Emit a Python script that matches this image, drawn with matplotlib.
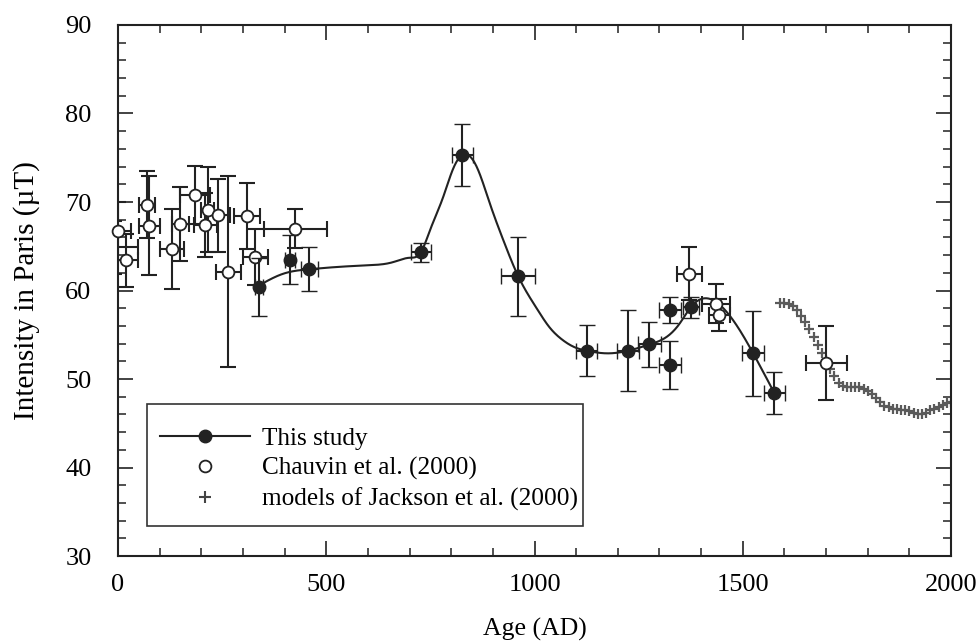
import numpy as np
import matplotlib
matplotlib.use("Agg")
import matplotlib.pyplot as plt
from matplotlib.lines import Line2D
from matplotlib.patches import Rectangle

plt.rcParams['font.family'] = ['Liberation Serif', 'DejaVu Serif']

# ---- This study (filled) ----
study_age = [339, 413, 459, 727, 827, 961, 1125, 1225, 1276, 1325, 1325, 1376, 1525, 1576]
study_int = [60.4, 63.5, 62.4, 64.3, 75.3, 61.6, 53.2, 53.2, 53.9, 57.8, 51.6, 58.1, 52.9, 48.4]
study_xerr = [10, 12, 20, 24, 26, 41, 26, 26, 27, 26, 26, 20, 26, 25]
study_yerr = [3.3, 2.8, 2.5, 1.1, 3.5, 4.45, 2.9, 4.6, 2.5, 1.5, 2.7, 1.2, 4.8, 2.4]

# smooth curve through this study (knots)
curve_age = [336, 397, 459, 509, 600, 660, 700, 727, 749, 781, 805, 833, 861, 893, 925, 961,
             1005, 1035, 1065, 1101, 1125, 1173, 1225, 1276, 1317, 1349, 1375, 1405, 1429,
             1461, 1493, 1525, 1576]
curve_int = [60.5, 61.9, 62.4, 62.6, 62.85, 63.2, 63.7, 64.3, 66.8, 70.6, 73.8, 75.4, 74.0,
             69.8, 65.7, 61.6, 58.0, 55.9, 54.5, 53.5, 53.2, 52.9, 53.2, 53.9, 54.75, 56.3,
             58.1, 59.1, 58.9, 57.6, 55.5, 52.9, 48.4]

# ---- Chauvin et al. (2000) (open) ----
ch_age = [1, 19, 70, 75, 130, 150, 185, 215, 210, 241, 265, 310, 329, 426, 1372, 1436, 1444, 1701]
ch_int = [66.7, 63.4, 69.7, 67.3, 64.7, 67.5, 70.8, 69.1, 67.4, 68.5, 62.1, 68.4, 63.8, 67.0,
          61.9, 58.5, 57.2, 51.8]
ch_xerr = [30, 30, 20, 25, 29, 20, 35, 16, 27, 27, 30, 31, 30, 76, 31, 33, 25, 49]
ch_yerr = [3.3, 3.0, 3.8, 5.6, 4.5, 4.2, 3.3, 4.8, 3.6, 4.1, 10.8, 3.7, 3.2, 2.2, 3.0, 2.2, 1.8, 4.2]
# partially visible point just left of the axis
ch_hidden_age = [-10]
ch_hidden_int = [64.9]
ch_hidden_xerr = [58]
ch_hidden_yerr = [3.0]

# ---- models of Jackson et al. (2000) ----
jk_age = list(range(1590, 2001, 10))
jk_int = [58.6, 58.6, 58.45, 58.2, 57.8, 57.1, 56.4, 55.6, 54.7, 53.8, 52.95, 52.1, 51.1,
          50.3, 49.6, 49.25, 49.15, 49.1, 49.1, 49.1, 48.9, 48.6, 48.3, 47.9, 47.4, 47.0,
          46.8, 46.65, 46.6, 46.55, 46.5, 46.4, 46.2, 46.05, 46.0, 46.2, 46.45, 46.6,
          46.85, 47.05, 47.25, 47.4]

x_ticks = [0, 500, 1000, 1500, 2000]
y_ticks = [30, 40, 50, 60, 70, 80, 90]


def natural_spline(x, y, xs):
    x = np.asarray(x, float); y = np.asarray(y, float)
    n = len(x)
    h = np.diff(x)
    A = np.zeros((n, n)); b = np.zeros(n)
    A[0, 0] = 1; A[-1, -1] = 1
    for i in range(1, n - 1):
        A[i, i - 1] = h[i - 1]
        A[i, i] = 2 * (h[i - 1] + h[i])
        A[i, i + 1] = h[i]
        b[i] = 6 * ((y[i + 1] - y[i]) / h[i] - (y[i] - y[i - 1]) / h[i - 1])
    M = np.linalg.solve(A, b)
    idx = np.clip(np.searchsorted(x, xs) - 1, 0, n - 2)
    x0 = x[idx]; x1 = x[idx + 1]; hh = x1 - x0
    t0 = x1 - xs; t1 = xs - x0
    return (M[idx] * t0**3 / (6 * hh) + M[idx + 1] * t1**3 / (6 * hh)
            + (y[idx] / hh - M[idx] * hh / 6) * t0 + (y[idx + 1] / hh - M[idx + 1] * hh / 6) * t1)


fig = plt.figure(figsize=(9.76, 6.41), dpi=100)
ax = fig.add_axes([0.1209, 0.1326, 0.8535, 0.8284])

ec = '#222222'
eb = dict(ecolor=ec, elinewidth=1.5, capsize=6, capthick=1.5)

# Jackson models
ax.plot(jk_age, jk_int, linestyle='none', marker='+', color='#5a5a5a',
        markersize=7, markeredgewidth=1.6, zorder=2)

# smooth curve
xs = np.linspace(curve_age[0], curve_age[-1], 800)
ax.plot(xs, natural_spline(curve_age, curve_int, xs), color=ec, lw=1.5, zorder=3)

# Chauvin hidden point (clipped)
ax.errorbar(ch_hidden_age, ch_hidden_int, xerr=ch_hidden_xerr, yerr=ch_hidden_yerr,
            fmt='none', zorder=3, **eb)

# Chauvin: bars clipped, markers not
ax.errorbar(ch_age, ch_int, xerr=ch_xerr, yerr=ch_yerr, fmt='none', zorder=4, **eb)
ax.plot(ch_age, ch_int, linestyle='none', marker='o', mfc='white', mec=ec, ms=8.5, mew=1.3,
        zorder=4.5, clip_on=False)

# This study
ax.errorbar(study_age, study_int, xerr=study_xerr, yerr=study_yerr, fmt='o', mfc=ec, mec=ec,
            ms=9, mew=1.0, zorder=5, **eb)

ax.set_xlim(0, 2000)
ax.set_ylim(30, 90)
ax.set_xticks(x_ticks)
ax.set_yticks(y_ticks)
ax.set_xticks(np.arange(0, 2001, 100), minor=True)
ax.set_yticks(np.arange(30, 91, 2), minor=True)
ax.tick_params(which='both', direction='in', top=True, right=True, color='#222222',
               labelsize=19)
ax.tick_params(which='major', length=10.5, width=1.2)
ax.tick_params(which='minor', length=5.5, width=1.1)
ax.tick_params(axis='x', pad=13)
ax.tick_params(axis='y', pad=19)
for s in ax.spines.values():
    s.set_linewidth(1.5)
    s.set_color('#222222')

ax.set_xlabel('Age (AD)', fontsize=18.5, labelpad=16)
ax.set_ylabel('Intensity in Paris (µT)', fontsize=21, labelpad=18)

# legend frame
ax.add_patch(Rectangle((0.0348, 0.0565), 0.5234, 0.2298, transform=ax.transAxes,
                       facecolor='white', edgecolor='#333333', lw=1.2, zorder=6))

handles = [
    Line2D([], [], color=ec, lw=1.5, marker='o', mfc=ec, mec=ec, ms=9),
    Line2D([], [], linestyle='none', marker='o', mfc='white', mec=ec, ms=8.5, mew=1.3),
    Line2D([], [], linestyle='none', marker='+', color='#444444', ms=8, mew=1.5),
]
labels = ['This study', 'Chauvin et al. (2000)', 'models of Jackson et al. (2000)']
leg = ax.legend(handles, labels, loc='center left', bbox_to_anchor=(0.0504, 0.1638),
                fontsize=18.2, frameon=False,
                handlelength=3.56, handletextpad=0.47, labelspacing=0.30,
                borderpad=0.0, borderaxespad=0.0, numpoints=1)
leg.set_zorder(7)

fig.savefig('out.png', dpi=100)
